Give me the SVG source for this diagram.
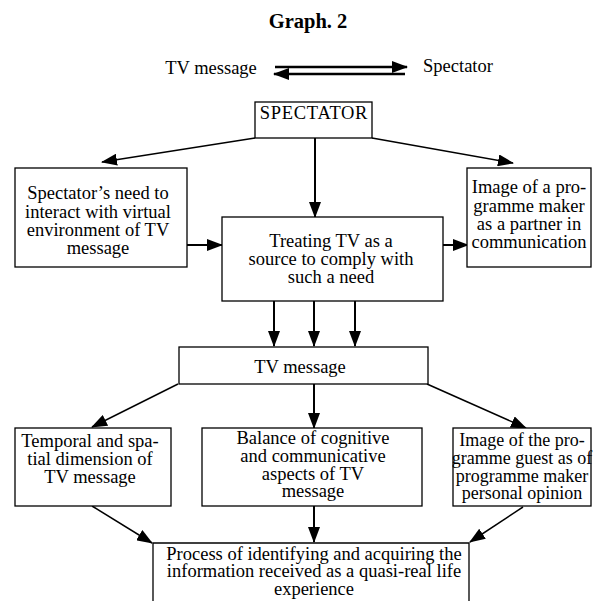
<svg xmlns="http://www.w3.org/2000/svg" width="593" height="601" viewBox="0 0 593 601" font-family="Liberation Serif, Times New Roman, serif" font-size="18.5">
<defs>
<marker id="ah" markerUnits="userSpaceOnUse" markerWidth="16" markerHeight="12" refX="15" refY="6" orient="auto">
<path d="M0,0 L16,6 L0,12 Z" fill="#000"/>
</marker>
<style>
text{fill:#000;text-anchor:middle}
.box{fill:#fff;stroke:#000;stroke-width:1.3}
.c{stroke:#000;fill:none;marker-end:url(#ah)}
.t{stroke-width:2}
.d{stroke-width:1.5}
</style>
</defs>
<rect width="593" height="601" fill="#fff"/>
<text x="308" y="28" font-weight="bold" font-size="20.5">Graph. 2</text>
<g id="legend">
<text x="211" y="74">TV message</text>
<text x="458" y="72">Spectator</text>
</g>
<g id="connectors">
<line class="c" x1="275" y1="67" x2="407" y2="67" style="stroke-width:2.5"/>
<line class="c" x1="405" y1="74" x2="274" y2="74" style="stroke-width:2.5"/>
<line class="c d" x1="255" y1="138" x2="102" y2="162"/>
<line class="c t" x1="315" y1="138" x2="315" y2="217"/>
<line class="c d" x1="372" y1="138" x2="513" y2="163"/>
<line class="c t" x1="187" y1="245" x2="222" y2="245"/>
<line class="c t" x1="443" y1="245" x2="468" y2="245"/>
<line class="c t" x1="274" y1="301" x2="274" y2="346"/>
<line class="c t" x1="314" y1="301" x2="314" y2="346"/>
<line class="c t" x1="355" y1="301" x2="355" y2="346"/>
<line class="c d" x1="178" y1="384" x2="92" y2="427"/>
<line class="c t" x1="314" y1="384" x2="314" y2="428"/>
<line class="c d" x1="427" y1="384" x2="526" y2="428"/>
<line class="c d" x1="92" y1="506" x2="152" y2="543"/>
<line class="c t" x1="314" y1="506" x2="314" y2="542"/>
<line class="c d" x1="523" y1="507" x2="470" y2="542"/>
</g>
<g id="spectator">
<rect class="box" x="255" y="102" width="117" height="36"/>
<text x="314" y="119" letter-spacing="0.7">SPECTATOR</text>
</g>
<g id="need">
<rect class="box" x="15" y="168" width="172" height="99"/>
<text x="98" y="199">Spectator’s need to</text>
<text x="98" y="218">interact with virtual</text>
<text x="98" y="236">environment of TV</text>
<text x="98" y="254">message</text>
</g>
<g id="treating">
<rect class="box" x="222" y="217" width="221" height="84"/>
<text x="331" y="247">Treating TV as a</text>
<text x="331" y="265">source to comply with</text>
<text x="331" y="283">such a need</text>
</g>
<g id="image-maker">
<rect class="box" x="467" y="168" width="124" height="99"/>
<text x="529" y="193">Image of a pro-</text>
<text x="529" y="212">gramme maker</text>
<text x="529" y="230">as a partner in</text>
<text x="529" y="248">communication</text>
</g>
<g id="tv-message">
<rect class="box" x="179" y="347" width="249" height="37"/>
<text x="300" y="373">TV message</text>
</g>
<g id="temporal">
<rect class="box" x="15" y="428" width="156" height="78"/>
<text x="90" y="447">Temporal and spa-</text>
<text x="90" y="465">tial dimension of</text>
<text x="90" y="483">TV message</text>
</g>
<g id="balance">
<rect class="box" x="202" y="428" width="220" height="78"/>
<text x="313" y="444">Balance of cognitive</text>
<text x="313" y="462">and communicative</text>
<text x="313" y="480">aspects of TV</text>
<text x="313" y="497">message</text>
</g>
<g id="image-guest" font-size="18">
<rect class="box" x="453" y="428" width="138" height="78"/>
<text x="522" y="446">Image of the pro-</text>
<text x="522" y="464">gramme guest as of</text>
<text x="522" y="482">programme maker</text>
<text x="522" y="499">personal opinion</text>
</g>
<g id="process">
<path class="box" d="M153,603 V543 H469 V603"/>
<text x="314" y="560">Process of identifying and acquiring the</text>
<text x="314" y="577">information received as a quasi-real life</text>
<text x="314" y="595">experience</text>
</g>
</svg>
